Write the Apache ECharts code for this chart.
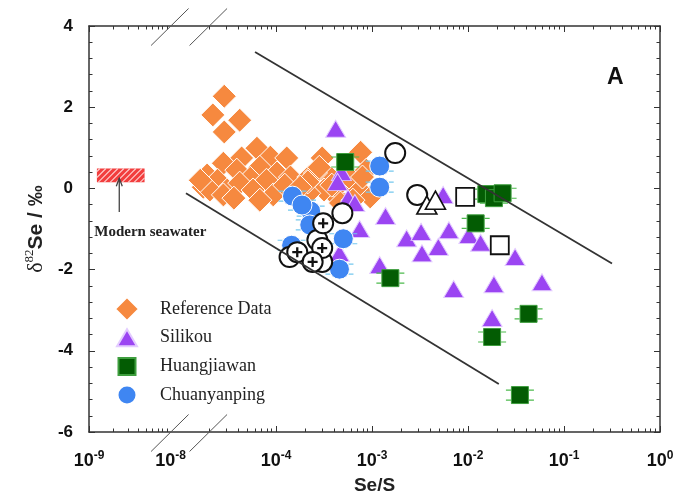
<!DOCTYPE html>
<html>
<head>
<meta charset="utf-8">
<script src="https://cdn.jsdelivr.net/npm/echarts@6/dist/echarts.min.js"></script>
<style>
html,body{margin:0;padding:0;background:#fff}
#chart{width:685px;height:494px}
</style>
</head>
<body>
<div id="chart"></div>
<script>
// Se/S ratio and δ82Se (‰) for each group
const refSeS = [2.88e-5, 2.19e-5, 4.17e-5, 2.88e-5, 6.31e-5, 8.71e-5, 1.29e-4, 4.37e-5, 2.82e-5, 6.76e-5,
  1.02e-4, 3.89e-5, 1.91e-5, 2.45e-5, 5.37e-5, 7.94e-5, 1.41e-4, 1.74e-5, 3.09e-5, 4.17e-5,
  5.75e-5, 2.04e-5, 9.33e-5, 2.82e-5, 1.62e-5, 3.63e-5, 3.16e-4, 3.47e-4, 4.27e-4, 3.16e-4,
  7.59e-4, 8.71e-4, 9.55e-4, 2.19e-4, 4.27e-4, 4.68e-4, 2.19e-4, 6.92e-4, 6.76e-5, 3.02e-4,
  2.57e-4, 2.14e-4, 5.75e-4, 7.94e-4, 3.80e-4, 2.82e-4, 6.31e-4, 1.23e-4, 1.78e-4];
const refDelta = [2.27, 1.81, 1.68, 1.39, 0.99, 0.77, 0.75, 0.75, 0.62, 0.52,
  0.38, 0.45, 0.33, 0.20, 0.25, 0.20, 0.28, 0.03, -0.04, 0.13,
  -0.04, -0.04, -0.16, -0.16, 0.20, -0.24, 0.45, 0.33, -0.21, -0.04,
  0.89, 0.45, -0.21, -0.12, 0.03, -0.36, 0.28, 0.03, -0.29, 0.75,
  0.38, 0.16, 0.28, 0.28, 0.08, 0.52, -0.29, 0.08, 0.03];

const silSeS = [4.17e-4, 4.79e-4, 4.37e-4, 5.62e-4, 6.61e-4, 1.38e-3, 7.41e-4, 4.57e-4, 1.20e-3, 2.29e-3,
  3.24e-3, 3.31e-3, 4.90e-3, 6.31e-3, 5.50e-3, 7.08e-3, 1.02e-2, 1.35e-2, 1.86e-2, 1.78e-2, 3.09e-2, 5.89e-2];
const silDelta = [1.47, 0.40, 0.16, -0.24, -0.36, -0.68, -1.00, -1.59, -1.89, -1.23,
  -1.07, -1.60, -1.44, -1.03, -0.16, -2.48, -1.15, -1.34, -2.36, -3.19, -1.69, -2.31];

const hjwSeS = [5.25e-4, 1.55e-3, 1.20e-2, 1.55e-2, 1.86e-2, 2.29e-2, 4.27e-2, 1.78e-2, 3.47e-2];
const hjwDelta = [0.65, -2.21, -0.86, -0.14, -0.24, -0.12, -3.09, -3.66, -5.09];

const cypSeS = [1.20e-3, 1.20e-3, 1.48e-4, 2.29e-4, 2.24e-4, 5.01e-4, 1.45e-4, 4.57e-4, 1.86e-4];
const cypDelta = [0.55, 0.03, -0.19, -0.56, -0.90, -1.24, -1.40, -1.99, -0.41];

// unlabelled open symbols
const openCircleSeS = [1.74e-3, 2.95e-3, 4.90e-4, 2.69e-4, 1.38e-4, 3.02e-4];
const openCircleDelta = [0.87, -0.16, -0.61, -1.27, -1.69, -1.81];
const plusCircleSeS = [3.09e-4, 1.66e-4, 3.02e-4, 2.40e-4];
const plusCircleDelta = [-0.86, -1.57, -1.47, -1.81];
const openTriSeS = [3.72e-3, 4.57e-3];
const openTriDelta = [-0.41, -0.29];
const openSqSeS = [9.33e-3, 2.14e-2];
const openSqDelta = [-0.21, -1.40];

// envelope lines
const upperBoundSeS = [6.03e-5, 0.316];
const upperBoundDelta = [3.36, -1.85];
const lowerBoundSeS = [1.15e-5, 2.09e-2];
const lowerBoundDelta = [-0.12, -4.82];

// modern seawater band and its arrow
const seawaterSeS = [1.25e-9, 4.8e-9];
const seawaterDelta = [0.15, 0.49];
const seawaterArrowSeS = 2.35e-9;
const seawaterArrowDelta = [-0.58, 0.25];

// x-axis ticks (powers of ten) and break
const xTickExponents = [-9, -8, -4, -3, -2, -1, 0];
const minorDecades = [-9, -5, -4, -3, -2, -1];
const minorMultipliers = [2, 3, 4, 5, 6, 7, 8, 9];
const axisBreakSeS = [1e-8, 2e-5];

// broken log scale: the 1e-9..1e-8 decade is compressed, then the axis resumes near 1e-5
function axisPos(seS) {
  const lg = Math.log10(seS);
  return lg < -7 ? -5.95 + 0.85 * (lg + 9) : lg;
}
const pts = (xs, ys) => xs.map((s, i) => [axisPos(s), ys[i]]);

const labelPositions = xTickExponents.map(e => axisPos(Math.pow(10, e)));
const majorTickPositions = labelPositions.filter((p, i) => xTickExponents[i] !== -8);
const minorTickPositions = [];
minorDecades.forEach(d => minorMultipliers.forEach(k => minorTickPositions.push(axisPos(k * Math.pow(10, d)))));

const AX = '#333';
const sansBold = { fontFamily: 'Arial, "Liberation Sans", sans-serif', fontWeight: 'bold' };
const serif = '"Liberation Serif", "Times New Roman", serif';

function xAxisDef(position, ticks, len, withLabels, showLine) {
  return {
    type: 'value', position, min: -5.95, max: 0,
    splitLine: { show: false },
    axisLine: { show: showLine, onZero: false, lineStyle: { color: AX, width: 1.5 } },
    axisTick: { show: true, inside: true, length: len, customValues: ticks, lineStyle: { color: AX, width: 1 } },
    axisLabel: withLabels ? {
      show: true, margin: 18, customValues: labelPositions, color: '#111',
      formatter: v => {
        const i = labelPositions.findIndex(p => Math.abs(p - v) < 1e-6);
        return '{b|10}{s|' + xTickExponents[i] + '}';
      },
      rich: {
        b: Object.assign({ fontSize: 18, lineHeight: 22, color: '#111' }, sansBold),
        s: Object.assign({ fontSize: 12, lineHeight: 12, verticalAlign: 'top', color: '#111' }, sansBold)
      }
    } : { show: false }
  };
}

function yAxisDef(position, withLabels) {
  const ax = {
    type: 'value', position, min: -6, max: 4, interval: 2,
    splitLine: { show: false },
    axisLine: { show: true, onZero: false, lineStyle: { color: AX, width: 1.5 } },
    axisTick: { show: true, inside: true, length: 6, lineStyle: { color: AX } },
    minorTick: { show: true, splitNumber: 5, length: 3.5, lineStyle: { color: AX } },
    axisLabel: withLabels ? Object.assign({ show: true, fontSize: 17, color: '#111', margin: 16 }, sansBold) : { show: false }
  };
  if (withLabels) {
    ax.name = '{g|δ}{s|82}{t|Se / ‰}';
    ax.nameLocation = 'middle';
    ax.nameGap = 38;
    ax.nameRotate = 90;
    ax.nameTextStyle = {
      rich: {
        g: { fontSize: 22, lineHeight: 25, color: '#222', fontFamily: serif },
        s: { fontSize: 13, lineHeight: 13, verticalAlign: 'top', color: '#222', fontFamily: serif },
        t: Object.assign({ fontSize: 21, lineHeight: 25, color: '#222' }, sansBold)
      }
    };
  }
  return ax;
}

const dashPath = 'path://M0,0h5v1.2h-5zM0,10h5v1.2h-5zM23,0h5v1.2h-5zM23,10h5v1.2h-5z';
const plusPath = 'path://M4,0h2.4v4h4v2.4h-4v4h-2.4v-4h-4v-2.4h4z';
// legend glyphs drawn inside a fixed 24x24 frame so their sizes differ
const legendIcons = {
  'Reference Data': 'path://M12,0L24,12L12,24L0,12z',
  'Silikou': 'path://M0,0M24,24M2,20.5L12,3.5L22,20.5z',
  'Huangjiawan': 'path://M0,0M24,24M3.5,3.5h17v17h-17z',
  'Chuanyanping': 'path://M0,0M24,24M2.5,12a9.5,9.5 0 1,0 19,0a9.5,9.5 0 1,0 -19,0z'
};

const chart = echarts.init(document.getElementById('chart'), null, { renderer: 'canvas' });
chart.setOption({
  backgroundColor: '#fff',
  animation: false,
  grid: { left: 89, right: 25, top: 26, bottom: 62, containLabel: false, outerBoundsMode: 'none' },
  xAxis: [
    Object.assign(xAxisDef('bottom', majorTickPositions, 6, true, true), {
      name: 'Se/S', nameLocation: 'middle', nameGap: 44,
      nameTextStyle: Object.assign({ fontSize: 19, color: '#222' }, sansBold)
    }),
    xAxisDef('top', majorTickPositions, 6, false, true),
    xAxisDef('top', minorTickPositions, 3.5, false, false),
    xAxisDef('bottom', minorTickPositions, 3.5, false, false)
  ],
  yAxis: [yAxisDef('left', true), yAxisDef('right', false)],
  legend: {
    data: Object.keys(legendIcons).map(n => ({ name: n, icon: legendIcons[n] })),
    orient: 'vertical', left: 109, top: 291,
    itemWidth: 24, itemHeight: 24, itemGap: 2.7,
    selectedMode: false,
    textStyle: { fontFamily: serif, fontSize: 18, color: '#222', padding: [0, 0, 0, 16] }
  },
  graphic: [
    { type: 'text', left: 607, top: 66, style: { text: 'A', font: 'bold 23px Arial, "Liberation Sans", sans-serif', fill: '#111' } }
  ],
  series: [
    {
      type: 'custom', silent: true, data: [[0, 0]],
      renderItem: function (params, api) {
        const ch = [];
        // hatched seawater band
        const p0 = api.coord([axisPos(seawaterSeS[0]), seawaterDelta[1]]);
        const p1 = api.coord([axisPos(seawaterSeS[1]), seawaterDelta[0]]);
        const x0 = p0[0], y0 = p0[1], x1 = p1[0], y1 = p1[1], h = y1 - y0;
        ch.push({ type: 'rect', shape: { x: x0, y: y0, width: x1 - x0, height: h }, style: { fill: '#F23D3D' } });
        for (let a = x0 - h + 3; a < x1; a += 6) {
          const t0 = Math.max(0, (x0 - a) / h), t1 = Math.min(1, (x1 - a) / h);
          if (t1 <= t0) continue;
          ch.push({ type: 'line', shape: { x1: a + t0 * h, y1: y1 - t0 * h, x2: a + t1 * h, y2: y1 - t1 * h },
            style: { stroke: 'rgba(255,220,220,0.9)', lineWidth: 1.1 } });
        }
        // arrow and caption
        const ax = axisPos(seawaterArrowSeS);
        const b = api.coord([ax, seawaterArrowDelta[0]]);
        const t = api.coord([ax, seawaterArrowDelta[1]]);
        ch.push({ type: 'line', shape: { x1: b[0], y1: b[1], x2: t[0], y2: t[1] }, style: { stroke: '#444', lineWidth: 1.3 } });
        ch.push({ type: 'polyline', shape: { points: [[t[0] - 3, t[1] + 8], [t[0], t[1]], [t[0] + 3, t[1] + 8]] },
          style: { stroke: '#444', lineWidth: 1.3, fill: null } });
        ch.push({ type: 'text', x: b[0] + 31, y: b[1] + 20,
          style: { text: 'Modern seawater', font: 'bold 15px "Liberation Serif", "Times New Roman", serif', fill: '#222',
            align: 'center', verticalAlign: 'middle' } });
        // axis break marks
        axisBreakSeS.forEach(s => {
          [-6, 4].forEach(yv => {
            const c = api.coord([axisPos(s), yv]);
            ch.push({ type: 'line', shape: { x1: c[0] - 19.5, y1: c[1] + 19.5, x2: c[0] + 18, y2: c[1] - 17.5 },
              style: { stroke: '#555', lineWidth: 1 } });
          });
        });
        return { type: 'group', children: ch };
      }
    },
    { type: 'line', data: pts(upperBoundSeS, upperBoundDelta), symbol: 'none', silent: true,
      lineStyle: { color: '#333', width: 1.8 } },
    { type: 'line', data: pts(lowerBoundSeS, lowerBoundDelta), symbol: 'none', silent: true,
      lineStyle: { color: '#333', width: 1.8 } },
    { name: 'Reference Data', type: 'scatter', data: pts(refSeS, refDelta), symbol: 'diamond', symbolSize: 24,
      itemStyle: { color: '#F6893F', borderColor: '#fff', borderWidth: 1, opacity: 1 } },
    { name: 'Silikou', type: 'scatter', data: pts(silSeS, silDelta), symbol: 'triangle', symbolSize: [20, 17],
      itemStyle: { color: '#9B45F2', borderColor: '#E3CCFF', borderWidth: 1, opacity: 1 } },
    { type: 'scatter', data: pts(hjwSeS, hjwDelta), symbol: dashPath, symbolSize: [28, 11.2], silent: true,
      itemStyle: { color: '#4DBB4D', opacity: 1 } },
    { name: 'Huangjiawan', type: 'scatter', data: pts(hjwSeS, hjwDelta), symbol: 'rect', symbolSize: 17,
      itemStyle: { color: '#035C03', borderColor: '#3E9E3E', borderWidth: 1, opacity: 1 } },
    { type: 'scatter', data: pts(cypSeS, cypDelta), symbol: dashPath, symbolSize: [28, 11.2], silent: true,
      itemStyle: { color: '#74C8EE', opacity: 1 } },
    { name: 'Chuanyanping', type: 'scatter', data: pts(cypSeS, cypDelta), symbol: 'circle', symbolSize: 20,
      itemStyle: { color: '#3F86F2', borderColor: '#fff', borderWidth: 1, opacity: 1 } },
    { type: 'scatter', data: pts(openCircleSeS, openCircleDelta), symbol: 'circle', symbolSize: 20,
      itemStyle: { color: '#fff', borderColor: '#111', borderWidth: 2, opacity: 1 } },
    { type: 'scatter', data: pts(openTriSeS, openTriDelta), symbol: 'triangle', symbolSize: [20, 18],
      itemStyle: { color: '#fff', borderColor: '#111', borderWidth: 1.6, opacity: 1 } },
    { type: 'scatter', data: pts(openSqSeS, openSqDelta), symbol: 'rect', symbolSize: 18,
      itemStyle: { color: '#fff', borderColor: '#111', borderWidth: 1.8, opacity: 1 } },
    { type: 'scatter', data: pts(plusCircleSeS, plusCircleDelta), symbol: 'circle', symbolSize: 20,
      itemStyle: { color: '#fff', borderColor: '#111', borderWidth: 2, opacity: 1 } },
    { type: 'scatter', data: pts(plusCircleSeS, plusCircleDelta), symbol: plusPath, symbolSize: 10, silent: true,
      itemStyle: { color: '#111', opacity: 1 } }
  ]
});
</script>
</body>
</html>
